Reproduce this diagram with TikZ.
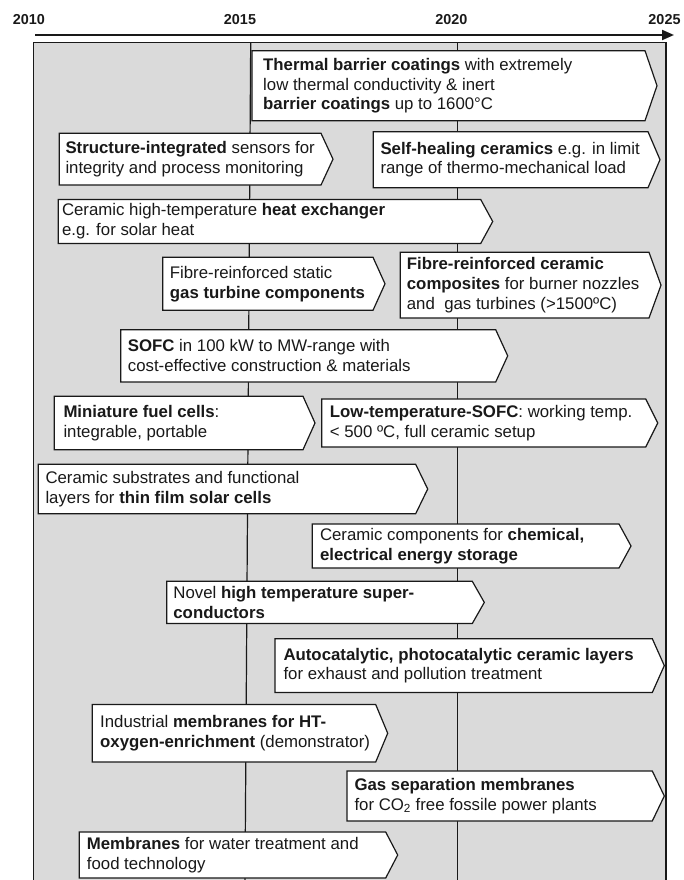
\documentclass[tikz,border=0pt]{standalone}
\usepackage{fontspec}
\setmainfont{Liberation Sans}
\usepackage{tikz}
\usetikzlibrary{arrows.meta}
\usepackage{xcolor}
\definecolor{bggray}{RGB}{218,218,218}
\definecolor{lineblack}{RGB}{25,25,25}

% [text pad]{name}{left}{top}{tip}{bottom}{text}
\newcommand{\trendbox}[7][7]{%
  \filldraw[trend] (#3,#4) -- ({#5-12},#4) -- (#5,{(#4+#6)/2}) -- ({#5-12},#6) -- (#3,#6) -- cycle;
  \node[trendtext] (#2) at ({#3+#1},{(#4+#6)/2}) {#7};
}

\begin{document}
\begin{tikzpicture}[x=1pt, y=-1pt,
    trend/.style={draw=lineblack, fill=white, line width=1.2pt},
    trendtext/.style={anchor=west, align=left, inner sep=0pt, text=lineblack,
      font=\fontsize{16.8}{19.8}\selectfont},
    year/.style={text=lineblack, font=\bfseries\fontsize{14.4}{16}\selectfont}]
  \useasboundingbox (0,0) rectangle (683,880);

  % Background and time axis
  \fill[bggray] (33.3,42.7) rectangle (666,880);
  \draw[lineblack, line width=1.4pt] (33.3,880) -- (33.3,42.7) -- (666,42.7) -- (666,880);
  \coordinate (axisstart) at (35,35);
  \coordinate (axisend) at (674,35);
  \draw[lineblack, line width=2pt, -{Triangle[length=12pt, width=10pt]}] (axisstart) -- (axisend);
  \node[year] (y2010) at (28.8,19.3) {2010};
  \node[year] (y2015) at (240,19.3) {2015};
  \node[year] (y2020) at (451.3,19.3) {2020};
  \node[year] (y2025) at (664.5,19.3) {2025};
  \draw[lineblack, line width=1.2pt] (250.7,42.7) -- (245,880);
  \draw[lineblack, line width=1.2pt] (457.7,42.7) -- (457.7,880);

  % Trends
  \trendbox[11]{thermal}{252}{50.7}{657}{120.7}{\textbf{Thermal barrier coatings} with extremely\\low thermal conductivity \& inert\\\textbf{barrier coatings} up to 1600°C}
  \trendbox[6]{sensors}{59.3}{133.3}{333}{185}{\textbf{Structure-integrated} sensors for\\integrity and process monitoring}
  \trendbox{selfheal}{373.3}{131.7}{660}{187.7}{\textbf{Self-healing ceramics} e.g. in limit\\range of thermo-mechanical load}
  \trendbox[3.5]{heatex}{58.3}{199.5}{492.7}{243.5}{Ceramic high-temperature \textbf{heat exchanger}\\e.g. for solar heat}
  \trendbox{gtcomp}{162.7}{257.3}{385}{310.3}{Fibre-reinforced static\\\textbf{gas turbine components}}
  \trendbox[6.4]{cmc}{400.3}{252.3}{661}{318}{\textbf{Fibre-reinforced ceramic}\\\textbf{composites} for burner nozzles\\and\ \ gas turbines (>1500ºC)}
  \trendbox{sofc}{120.7}{329.7}{507.7}{382}{\textbf{SOFC} in 100 kW to MW-range with\\cost-effective construction \& materials}
  \trendbox[9]{minifc}{54.3}{396.3}{315}{449.7}{\textbf{Miniature fuel cells}:\\integrable, portable}
  \trendbox[8]{ltsofc}{321.7}{399}{657.7}{447}{\textbf{Low-temperature-SOFC}: working temp.\\< 500 ºC, full ceramic setup}
  \trendbox{solar}{38.3}{464.3}{427.7}{513.7}{Ceramic substrates and functional\\layers for \textbf{thin film solar cells}}
  \trendbox[7.5]{storage}{312.3}{524}{631}{568}{Ceramic components for \textbf{chemical,}\\\textbf{electrical energy storage}}
  \trendbox[6.5]{supercond}{166.7}{581.3}{484.3}{623.5}{Novel \textbf{high temperature super-}\\\textbf{conductors}}
  \trendbox[8.3]{catalytic}{275}{638.7}{664.3}{692.5}{\textbf{Autocatalytic, photocatalytic ceramic layers}\\for exhaust and pollution treatment}
  \trendbox[7.7]{oxygen}{92.3}{704.5}{387.7}{762}{Industrial \textbf{membranes for HT-}\\\textbf{oxygen-enrichment} (demonstrator)}
  \trendbox[7.3]{gassep}{347}{771}{664.3}{821}{\textbf{Gas separation membranes}\\for CO\textsubscript{2} free fossile power plants}
  \trendbox[7.4]{water}{79.3}{832}{397.7}{878}{\textbf{Membranes} for water treatment and\\food technology}
\end{tikzpicture}
\end{document}
